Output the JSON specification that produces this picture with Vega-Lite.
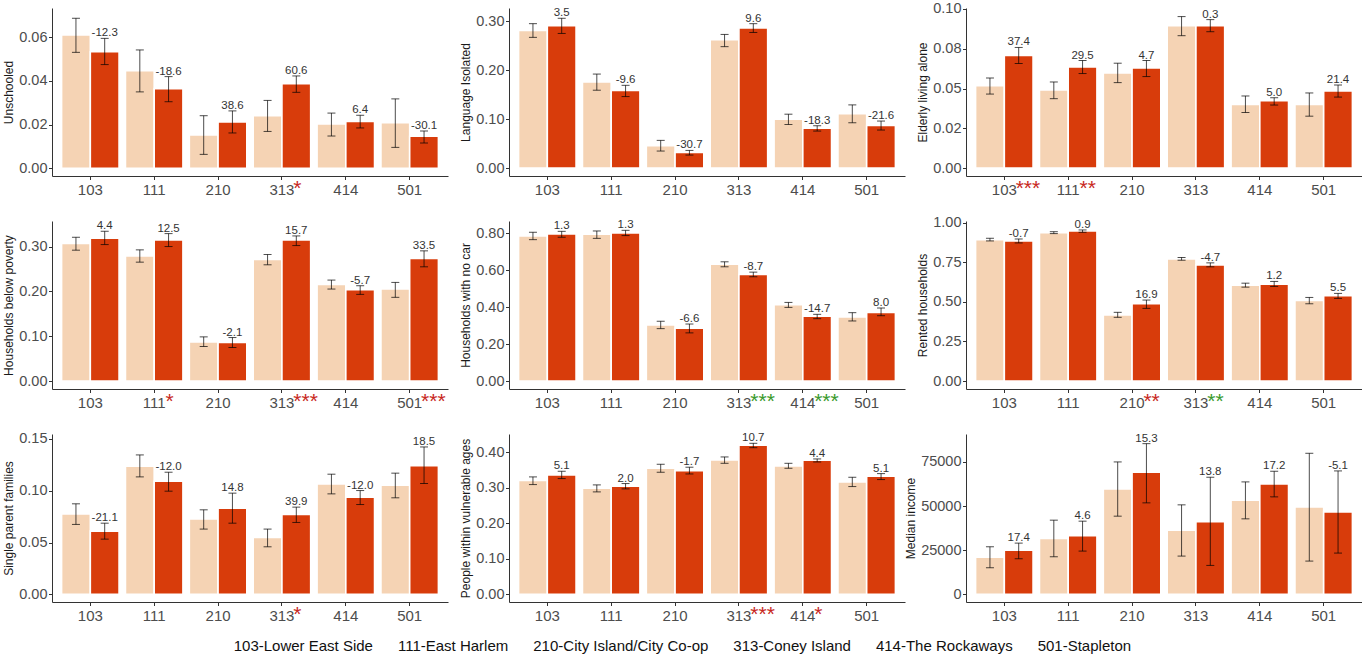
{
  "$schema": "https://vega.github.io/schema/vega-lite/v6.json",
  "padding": {"left": 2, "top": 0, "right": 0, "bottom": 0},
  "background": "white",
  "config": {
    "view": {"stroke": null},
    "font": "Liberation Sans",
    "axis": {"grid": false, "domainColor": "#333333", "tickColor": "#333333", "labelColor": "#4d4d4d", "labelFontSize": 15, "labelFont": "Liberation Sans", "titleFont": "Liberation Sans", "titleFontSize": 12, "titleFontWeight": "normal", "titleColor": "#1a1a1a", "tickSize": 3.5, "labelPadding": 1.5, "titlePadding": 3, "domainWidth": 1, "tickWidth": 1},
    "axisX": {"labelAngle": 0, "labelPadding": 3},
    "axisY": {"labelFontSize": 14.5},
    "text": {"font": "Liberation Sans"}
  },
  "datasets": {
    "bars": [
      {"v":"Unschooled","d":"103","p":"Period 1","val":0.0611,"lo":0.0531,"hi":0.0687},
      {"v":"Unschooled","d":"103","p":"Period 2","val":0.0534,"lo":0.0475,"hi":0.0595,"lab":"-12.3"},
      {"v":"Unschooled","d":"111","p":"Period 1","val":0.0447,"lo":0.0350,"hi":0.0542},
      {"v":"Unschooled","d":"111","p":"Period 2","val":0.0365,"lo":0.0305,"hi":0.0420,"lab":"-18.6"},
      {"v":"Unschooled","d":"210","p":"Period 1","val":0.0153,"lo":0.0064,"hi":0.0241},
      {"v":"Unschooled","d":"210","p":"Period 2","val":0.0212,"lo":0.0162,"hi":0.0263,"lab":"38.6"},
      {"v":"Unschooled","d":"313","p":"Period 1","val":0.0241,"lo":0.0169,"hi":0.0311},
      {"v":"Unschooled","d":"313","p":"Period 2","val":0.0388,"lo":0.0348,"hi":0.0423,"lab":"60.6"},
      {"v":"Unschooled","d":"414","p":"Period 1","val":0.0203,"lo":0.0148,"hi":0.0253},
      {"v":"Unschooled","d":"414","p":"Period 2","val":0.0215,"lo":0.0185,"hi":0.0243,"lab":"6.4"},
      {"v":"Unschooled","d":"501","p":"Period 1","val":0.0209,"lo":0.0096,"hi":0.0318},
      {"v":"Unschooled","d":"501","p":"Period 2","val":0.0147,"lo":0.0116,"hi":0.0171,"lab":"-30.1"},

      {"v":"Language Isolated","d":"103","p":"Period 1","val":0.281,"lo":0.267,"hi":0.295},
      {"v":"Language Isolated","d":"103","p":"Period 2","val":0.291,"lo":0.275,"hi":0.306,"lab":"3.5"},
      {"v":"Language Isolated","d":"111","p":"Period 1","val":0.176,"lo":0.159,"hi":0.192},
      {"v":"Language Isolated","d":"111","p":"Period 2","val":0.1585,"lo":0.146,"hi":0.169,"lab":"-9.6"},
      {"v":"Language Isolated","d":"210","p":"Period 1","val":0.0456,"lo":0.0347,"hi":0.0565},
      {"v":"Language Isolated","d":"210","p":"Period 2","val":0.032,"lo":0.0265,"hi":0.036,"lab":"-30.7"},
      {"v":"Language Isolated","d":"313","p":"Period 1","val":0.262,"lo":0.248,"hi":0.273},
      {"v":"Language Isolated","d":"313","p":"Period 2","val":0.286,"lo":0.277,"hi":0.295,"lab":"9.6"},
      {"v":"Language Isolated","d":"414","p":"Period 1","val":0.100,"lo":0.089,"hi":0.110},
      {"v":"Language Isolated","d":"414","p":"Period 2","val":0.0816,"lo":0.0755,"hi":0.0864,"lab":"-18.3"},
      {"v":"Language Isolated","d":"501","p":"Period 1","val":0.111,"lo":0.0925,"hi":0.129},
      {"v":"Language Isolated","d":"501","p":"Period 2","val":0.087,"lo":0.0776,"hi":0.096,"lab":"-21.6"},

      {"v":"Elderly living alone","d":"103","p":"Period 1","val":0.0518,"lo":0.0465,"hi":0.0566},
      {"v":"Elderly living alone","d":"103","p":"Period 2","val":0.0707,"lo":0.0657,"hi":0.0758,"lab":"37.4"},
      {"v":"Elderly living alone","d":"111","p":"Period 1","val":0.0491,"lo":0.0436,"hi":0.0541},
      {"v":"Elderly living alone","d":"111","p":"Period 2","val":0.0636,"lo":0.0594,"hi":0.0676,"lab":"29.5"},
      {"v":"Elderly living alone","d":"210","p":"Period 1","val":0.0598,"lo":0.0537,"hi":0.0659},
      {"v":"Elderly living alone","d":"210","p":"Period 2","val":0.0629,"lo":0.0575,"hi":0.0676,"lab":"4.7"},
      {"v":"Elderly living alone","d":"313","p":"Period 1","val":0.0895,"lo":0.0832,"hi":0.0952},
      {"v":"Elderly living alone","d":"313","p":"Period 2","val":0.0895,"lo":0.0857,"hi":0.0933,"lab":"0.3"},
      {"v":"Elderly living alone","d":"414","p":"Period 1","val":0.0400,"lo":0.0349,"hi":0.0453},
      {"v":"Elderly living alone","d":"414","p":"Period 2","val":0.0423,"lo":0.0396,"hi":0.0442,"lab":"5.0"},
      {"v":"Elderly living alone","d":"501","p":"Period 1","val":0.0400,"lo":0.0326,"hi":0.0472},
      {"v":"Elderly living alone","d":"501","p":"Period 2","val":0.0484,"lo":0.0446,"hi":0.0522,"lab":"21.4"},

      {"v":"Households below poverty","d":"103","p":"Period 1","val":0.3067,"lo":0.2919,"hi":0.3207},
      {"v":"Households below poverty","d":"103","p":"Period 2","val":0.3185,"lo":0.3044,"hi":0.3341,"lab":"4.4"},
      {"v":"Households below poverty","d":"111","p":"Period 1","val":0.2793,"lo":0.2652,"hi":0.2926},
      {"v":"Households below poverty","d":"111","p":"Period 2","val":0.3148,"lo":0.3000,"hi":0.3289,"lab":"12.5"},
      {"v":"Households below poverty","d":"210","p":"Period 1","val":0.0874,"lo":0.0770,"hi":0.0985},
      {"v":"Households below poverty","d":"210","p":"Period 2","val":0.0859,"lo":0.0748,"hi":0.0970,"lab":"-2.1"},
      {"v":"Households below poverty","d":"313","p":"Period 1","val":0.2711,"lo":0.2593,"hi":0.2822},
      {"v":"Households below poverty","d":"313","p":"Period 2","val":0.3148,"lo":0.3022,"hi":0.3237,"lab":"15.7"},
      {"v":"Households below poverty","d":"414","p":"Period 1","val":0.2156,"lo":0.2052,"hi":0.2252},
      {"v":"Households below poverty","d":"414","p":"Period 2","val":0.2037,"lo":0.1933,"hi":0.2126,"lab":"-5.7"},
      {"v":"Households below poverty","d":"501","p":"Period 1","val":0.2052,"lo":0.1867,"hi":0.2200},
      {"v":"Households below poverty","d":"501","p":"Period 2","val":0.2733,"lo":0.2548,"hi":0.2904,"lab":"33.5"},

      {"v":"Households with no car","d":"103","p":"Period 1","val":0.786,"lo":0.766,"hi":0.806},
      {"v":"Households with no car","d":"103","p":"Period 2","val":0.797,"lo":0.779,"hi":0.811,"lab":"1.3"},
      {"v":"Households with no car","d":"111","p":"Period 1","val":0.795,"lo":0.773,"hi":0.813},
      {"v":"Households with no car","d":"111","p":"Period 2","val":0.802,"lo":0.788,"hi":0.8165,"lab":"1.3"},
      {"v":"Households with no car","d":"210","p":"Period 1","val":0.304,"lo":0.284,"hi":0.324},
      {"v":"Households with no car","d":"210","p":"Period 2","val":0.286,"lo":0.261,"hi":0.309,"lab":"-6.6"},
      {"v":"Households with no car","d":"313","p":"Period 1","val":0.633,"lo":0.619,"hi":0.646},
      {"v":"Households with no car","d":"313","p":"Period 2","val":0.577,"lo":0.565,"hi":0.590,"lab":"-8.7"},
      {"v":"Households with no car","d":"414","p":"Period 1","val":0.4137,"lo":0.399,"hi":0.426},
      {"v":"Households with no car","d":"414","p":"Period 2","val":0.351,"lo":0.338,"hi":0.3615,"lab":"-14.7"},
      {"v":"Households with no car","d":"501","p":"Period 1","val":0.347,"lo":0.3255,"hi":0.3705},
      {"v":"Households with no car","d":"501","p":"Period 2","val":0.372,"lo":0.354,"hi":0.3957,"lab":"8.0"},

      {"v":"Rented households","d":"103","p":"Period 1","val":0.893,"lo":0.8847,"hi":0.9015},
      {"v":"Rented households","d":"103","p":"Period 2","val":0.8847,"lo":0.872,"hi":0.897,"lab":"-0.7"},
      {"v":"Rented households","d":"111","p":"Period 1","val":0.937,"lo":0.931,"hi":0.943},
      {"v":"Rented households","d":"111","p":"Period 2","val":0.9476,"lo":0.9392,"hi":0.954,"lab":"0.9"},
      {"v":"Rented households","d":"210","p":"Period 1","val":0.417,"lo":0.4025,"hi":0.434},
      {"v":"Rented households","d":"210","p":"Period 2","val":0.488,"lo":0.459,"hi":0.5115,"lab":"16.9"},
      {"v":"Rented households","d":"313","p":"Period 1","val":0.7715,"lo":0.763,"hi":0.780},
      {"v":"Rented households","d":"313","p":"Period 2","val":0.7338,"lo":0.7212,"hi":0.7463,"lab":"-4.7"},
      {"v":"Rented households","d":"414","p":"Period 1","val":0.606,"lo":0.593,"hi":0.618},
      {"v":"Rented households","d":"414","p":"Period 2","val":0.612,"lo":0.5975,"hi":0.629,"lab":"1.2"},
      {"v":"Rented households","d":"501","p":"Period 1","val":0.509,"lo":0.488,"hi":0.528},
      {"v":"Rented households","d":"501","p":"Period 2","val":0.539,"lo":0.522,"hi":0.5535,"lab":"5.5"},

      {"v":"Single parent families","d":"103","p":"Period 1","val":0.0777,"lo":0.0675,"hi":0.0874},
      {"v":"Single parent families","d":"103","p":"Period 2","val":0.0610,"lo":0.0533,"hi":0.0687,"lab":"-21.1"},
      {"v":"Single parent families","d":"111","p":"Period 1","val":0.1237,"lo":0.1134,"hi":0.1346},
      {"v":"Single parent families","d":"111","p":"Period 2","val":0.1092,"lo":0.0996,"hi":0.1179,"lab":"-12.0"},
      {"v":"Single parent families","d":"210","p":"Period 1","val":0.0729,"lo":0.0630,"hi":0.0816},
      {"v":"Single parent families","d":"210","p":"Period 2","val":0.0832,"lo":0.0687,"hi":0.0977,"lab":"14.8"},
      {"v":"Single parent families","d":"313","p":"Period 1","val":0.0549,"lo":0.0459,"hi":0.0630},
      {"v":"Single parent families","d":"313","p":"Period 2","val":0.0771,"lo":0.0694,"hi":0.0842,"lab":"39.9"},
      {"v":"Single parent families","d":"414","p":"Period 1","val":0.1066,"lo":0.0970,"hi":0.1160},
      {"v":"Single parent families","d":"414","p":"Period 2","val":0.0938,"lo":0.0867,"hi":0.1002,"lab":"-12.0"},
      {"v":"Single parent families","d":"501","p":"Period 1","val":0.1054,"lo":0.0932,"hi":0.1170},
      {"v":"Single parent families","d":"501","p":"Period 2","val":0.1243,"lo":0.1070,"hi":0.1423,"lab":"18.5"},

      {"v":"People within vulnerable ages","d":"103","p":"Period 1","val":0.3204,"lo":0.3091,"hi":0.3307},
      {"v":"People within vulnerable ages","d":"103","p":"Period 2","val":0.3363,"lo":0.3260,"hi":0.3466,"lab":"5.1"},
      {"v":"People within vulnerable ages","d":"111","p":"Period 1","val":0.2988,"lo":0.2885,"hi":0.3082},
      {"v":"People within vulnerable ages","d":"111","p":"Period 2","val":0.3044,"lo":0.2970,"hi":0.3120,"lab":"2.0"},
      {"v":"People within vulnerable ages","d":"210","p":"Period 1","val":0.3550,"lo":0.3438,"hi":0.3663},
      {"v":"People within vulnerable ages","d":"210","p":"Period 2","val":0.3485,"lo":0.3390,"hi":0.3580,"lab":"-1.7"},
      {"v":"People within vulnerable ages","d":"313","p":"Period 1","val":0.3785,"lo":0.3690,"hi":0.3869},
      {"v":"People within vulnerable ages","d":"313","p":"Period 2","val":0.4197,"lo":0.4130,"hi":0.4253,"lab":"10.7"},
      {"v":"People within vulnerable ages","d":"414","p":"Period 1","val":0.3616,"lo":0.3550,"hi":0.3690},
      {"v":"People within vulnerable ages","d":"414","p":"Period 2","val":0.3775,"lo":0.3728,"hi":0.3813,"lab":"4.4"},
      {"v":"People within vulnerable ages","d":"501","p":"Period 1","val":0.3166,"lo":0.3035,"hi":0.3297},
      {"v":"People within vulnerable ages","d":"501","p":"Period 2","val":0.3326,"lo":0.3232,"hi":0.3400,"lab":"5.1"},

      {"v":"Median income","d":"103","p":"Period 1","val":21100,"lo":15070,"hi":26950},
      {"v":"Median income","d":"103","p":"Period 2","val":25060,"lo":20160,"hi":29020,"lab":"17.4"},
      {"v":"Median income","d":"111","p":"Period 1","val":31660,"lo":21290,"hi":42020},
      {"v":"Median income","d":"111","p":"Period 2","val":33160,"lo":24500,"hi":41450,"lab":"4.6"},
      {"v":"Median income","d":"210","p":"Period 1","val":59730,"lo":44280,"hi":75000},
      {"v":"Median income","d":"210","p":"Period 2","val":69150,"lo":51820,"hi":85360,"lab":"15.3"},
      {"v":"Median income","d":"313","p":"Period 1","val":36370,"lo":21670,"hi":50690},
      {"v":"Median income","d":"313","p":"Period 2","val":41080,"lo":16390,"hi":66330,"lab":"13.8"},
      {"v":"Median income","d":"414","p":"Period 1","val":53330,"lo":42770,"hi":63690},
      {"v":"Median income","d":"414","p":"Period 2","val":62560,"lo":55210,"hi":69720,"lab":"17.2"},
      {"v":"Median income","d":"501","p":"Period 1","val":49560,"lo":18840,"hi":79900},
      {"v":"Median income","d":"501","p":"Period 2","val":46730,"lo":23370,"hi":69910,"lab":"-5.1"}
    ],
    "stars": [
      {"v":"Unschooled","d":"313","p":"Period 2","s":"*","dir":"up"},
      {"v":"Elderly living alone","d":"103","p":"Period 2","s":"***","dir":"up"},
      {"v":"Elderly living alone","d":"111","p":"Period 2","s":"**","dir":"up"},
      {"v":"Households below poverty","d":"111","p":"Period 2","s":"*","dir":"up"},
      {"v":"Households below poverty","d":"313","p":"Period 2","s":"***","dir":"up"},
      {"v":"Households below poverty","d":"501","p":"Period 2","s":"***","dir":"up"},
      {"v":"Households with no car","d":"313","p":"Period 2","s":"***","dir":"down"},
      {"v":"Households with no car","d":"414","p":"Period 2","s":"***","dir":"down"},
      {"v":"Rented households","d":"210","p":"Period 2","s":"**","dir":"up"},
      {"v":"Rented households","d":"313","p":"Period 2","s":"**","dir":"down"},
      {"v":"Single parent families","d":"313","p":"Period 2","s":"*","dir":"up"},
      {"v":"People within vulnerable ages","d":"313","p":"Period 2","s":"***","dir":"up"},
      {"v":"People within vulnerable ages","d":"414","p":"Period 2","s":"*","dir":"up"}
    ]
  },
  "title": {"text": "103-Lower East Side\u00a0\u00a0\u00a0\u00a0\u00a0\u00a0111-East Harlem\u00a0\u00a0\u00a0\u00a0\u00a0\u00a0210-City Island/City Co-op\u00a0\u00a0\u00a0\u00a0\u00a0\u00a0313-Coney Island\u00a0\u00a0\u00a0\u00a0\u00a0\u00a0414-The Rockaways\u00a0\u00a0\u00a0\u00a0\u00a0\u00a0501-Stapleton", "orient": "bottom", "anchor": "middle", "fontSize": 15, "font": "Liberation Sans", "fontWeight": "normal", "color": "#111111", "offset": 14},
  "columns": 3,
  "bounds": "flush",
  "spacing": {"row": 45, "column": 61},
  "concat": [
    {
      "width": 396, "height": 168,
      "encoding": {"x": {"field": "d", "type": "nominal", "scale": {"paddingInner": 0.1, "paddingOuter": 0.15}, "axis": {"title": null}}, "xOffset": {"field": "p", "type": "nominal"}},
      "layer": [
        {"data": {"name": "bars"}, "transform": [{"filter": "datum.v === 'Unschooled'"}],
         "layer": [
          {"mark": {"type": "bar", "stroke": "white", "strokeWidth": 1.6},
           "encoding": {"y": {"field": "val", "type": "quantitative", "scale": {"domain": [-0.0035, 0.0734], "nice": false, "zero": false}, "axis": {"title": "Unschooled", "values": [0, 0.02, 0.04, 0.06], "format": ".2f"}}, "y2": {"datum": 0}, "color": {"field": "p", "type": "nominal", "scale": {"range": ["#F5D3B4", "#D83C0B"]}, "legend": null}}},
          {"mark": {"type": "rule", "color": "black", "opacity": 0.7}, "encoding": {"y": {"field": "lo", "type": "quantitative"}, "y2": {"field": "hi"}}},
          {"mark": {"type": "tick", "color": "black", "opacity": 0.7, "size": 8, "thickness": 1}, "encoding": {"y": {"field": "lo", "type": "quantitative"}}},
          {"mark": {"type": "tick", "color": "black", "opacity": 0.7, "size": 8, "thickness": 1}, "encoding": {"y": {"field": "hi", "type": "quantitative"}}},
          {"transform": [{"filter": "datum.lab != null"}], "mark": {"type": "text", "fontSize": 11.5, "color": "#333333", "dy": -2, "baseline": "alphabetic"}, "encoding": {"y": {"field": "hi", "type": "quantitative"}, "text": {"field": "lab"}}}
         ]},
        {"data": {"name": "stars"}, "transform": [{"filter": "datum.v === 'Unschooled'"}],
         "mark": {"type": "text", "fontSize": 21, "align": "left", "dx": -3, "dy": 19, "baseline": "alphabetic"},
         "encoding": {"y": {"datum": -0.0035}, "text": {"field": "s"}, "color": {"condition": {"test": "datum.dir === 'down'", "value": "#3A9A2C"}, "value": "#C8281E"}}}
      ]
    },
    {
      "width": 396, "height": 168,
      "encoding": {"x": {"field": "d", "type": "nominal", "scale": {"paddingInner": 0.1, "paddingOuter": 0.15}, "axis": {"title": null}}, "xOffset": {"field": "p", "type": "nominal"}},
      "layer": [
        {"data": {"name": "bars"}, "transform": [{"filter": "datum.v === 'Language Isolated'"}],
         "layer": [
          {"mark": {"type": "bar", "stroke": "white", "strokeWidth": 1.6},
           "encoding": {"y": {"field": "val", "type": "quantitative", "scale": {"domain": [-0.0163, 0.327], "nice": false, "zero": false}, "axis": {"title": "Language Isolated", "values": [0, 0.1, 0.2, 0.3], "format": ".2f"}}, "y2": {"datum": 0}, "color": {"field": "p", "type": "nominal", "scale": {"range": ["#F5D3B4", "#D83C0B"]}, "legend": null}}},
          {"mark": {"type": "rule", "color": "black", "opacity": 0.7}, "encoding": {"y": {"field": "lo", "type": "quantitative"}, "y2": {"field": "hi"}}},
          {"mark": {"type": "tick", "color": "black", "opacity": 0.7, "size": 8, "thickness": 1}, "encoding": {"y": {"field": "lo", "type": "quantitative"}}},
          {"mark": {"type": "tick", "color": "black", "opacity": 0.7, "size": 8, "thickness": 1}, "encoding": {"y": {"field": "hi", "type": "quantitative"}}},
          {"transform": [{"filter": "datum.lab != null"}], "mark": {"type": "text", "fontSize": 11.5, "color": "#333333", "dy": -2, "baseline": "alphabetic"}, "encoding": {"y": {"field": "hi", "type": "quantitative"}, "text": {"field": "lab"}}}
         ]}
      ]
    },
    {
      "width": 396, "height": 168,
      "encoding": {"x": {"field": "d", "type": "nominal", "scale": {"paddingInner": 0.1, "paddingOuter": 0.15}, "axis": {"title": null}}, "xOffset": {"field": "p", "type": "nominal"}},
      "layer": [
        {"data": {"name": "bars"}, "transform": [{"filter": "datum.v === 'Elderly living alone'"}],
         "layer": [
          {"mark": {"type": "bar", "stroke": "white", "strokeWidth": 1.6},
           "encoding": {"y": {"field": "val", "type": "quantitative", "scale": {"domain": [-0.005, 0.1006], "nice": false, "zero": false}, "axis": {"title": "Elderly living alone", "values": [0, 0.025, 0.05, 0.075, 0.1], "labelExpr": "datum.value == 0.025 ? '0.02' : datum.value == 0.075 ? '0.08' : format(datum.value, '.2f')"}}, "y2": {"datum": 0}, "color": {"field": "p", "type": "nominal", "scale": {"range": ["#F5D3B4", "#D83C0B"]}, "legend": null}}},
          {"mark": {"type": "rule", "color": "black", "opacity": 0.7}, "encoding": {"y": {"field": "lo", "type": "quantitative"}, "y2": {"field": "hi"}}},
          {"mark": {"type": "tick", "color": "black", "opacity": 0.7, "size": 8, "thickness": 1}, "encoding": {"y": {"field": "lo", "type": "quantitative"}}},
          {"mark": {"type": "tick", "color": "black", "opacity": 0.7, "size": 8, "thickness": 1}, "encoding": {"y": {"field": "hi", "type": "quantitative"}}},
          {"transform": [{"filter": "datum.lab != null"}], "mark": {"type": "text", "fontSize": 11.5, "color": "#333333", "dy": -2, "baseline": "alphabetic"}, "encoding": {"y": {"field": "hi", "type": "quantitative"}, "text": {"field": "lab"}}}
         ]},
        {"data": {"name": "stars"}, "transform": [{"filter": "datum.v === 'Elderly living alone'"}],
         "mark": {"type": "text", "fontSize": 21, "align": "left", "dx": -3, "dy": 19, "baseline": "alphabetic"},
         "encoding": {"y": {"datum": -0.005}, "text": {"field": "s"}, "color": {"condition": {"test": "datum.dir === 'down'", "value": "#3A9A2C"}, "value": "#C8281E"}}}
      ]
    },
    {
      "width": 396, "height": 168,
      "encoding": {"x": {"field": "d", "type": "nominal", "scale": {"paddingInner": 0.1, "paddingOuter": 0.15}, "axis": {"title": null}}, "xOffset": {"field": "p", "type": "nominal"}},
      "layer": [
        {"data": {"name": "bars"}, "transform": [{"filter": "datum.v === 'Households below poverty'"}],
         "layer": [
          {"mark": {"type": "bar", "stroke": "white", "strokeWidth": 1.6},
           "encoding": {"y": {"field": "val", "type": "quantitative", "scale": {"domain": [-0.0178, 0.357], "nice": false, "zero": false}, "axis": {"title": "Households below poverty", "values": [0, 0.1, 0.2, 0.3], "format": ".2f"}}, "y2": {"datum": 0}, "color": {"field": "p", "type": "nominal", "scale": {"range": ["#F5D3B4", "#D83C0B"]}, "legend": null}}},
          {"mark": {"type": "rule", "color": "black", "opacity": 0.7}, "encoding": {"y": {"field": "lo", "type": "quantitative"}, "y2": {"field": "hi"}}},
          {"mark": {"type": "tick", "color": "black", "opacity": 0.7, "size": 8, "thickness": 1}, "encoding": {"y": {"field": "lo", "type": "quantitative"}}},
          {"mark": {"type": "tick", "color": "black", "opacity": 0.7, "size": 8, "thickness": 1}, "encoding": {"y": {"field": "hi", "type": "quantitative"}}},
          {"transform": [{"filter": "datum.lab != null"}], "mark": {"type": "text", "fontSize": 11.5, "color": "#333333", "dy": -2, "baseline": "alphabetic"}, "encoding": {"y": {"field": "hi", "type": "quantitative"}, "text": {"field": "lab"}}}
         ]},
        {"data": {"name": "stars"}, "transform": [{"filter": "datum.v === 'Households below poverty'"}],
         "mark": {"type": "text", "fontSize": 21, "align": "left", "dx": -3, "dy": 19, "baseline": "alphabetic"},
         "encoding": {"y": {"datum": -0.0178}, "text": {"field": "s"}, "color": {"condition": {"test": "datum.dir === 'down'", "value": "#3A9A2C"}, "value": "#C8281E"}}}
      ]
    },
    {
      "width": 396, "height": 168,
      "encoding": {"x": {"field": "d", "type": "nominal", "scale": {"paddingInner": 0.1, "paddingOuter": 0.15}, "axis": {"title": null}}, "xOffset": {"field": "p", "type": "nominal"}},
      "layer": [
        {"data": {"name": "bars"}, "transform": [{"filter": "datum.v === 'Households with no car'"}],
         "layer": [
          {"mark": {"type": "bar", "stroke": "white", "strokeWidth": 1.6},
           "encoding": {"y": {"field": "val", "type": "quantitative", "scale": {"domain": [-0.043, 0.867], "nice": false, "zero": false}, "axis": {"title": "Households with no car", "values": [0, 0.2, 0.4, 0.6, 0.8], "format": ".2f"}}, "y2": {"datum": 0}, "color": {"field": "p", "type": "nominal", "scale": {"range": ["#F5D3B4", "#D83C0B"]}, "legend": null}}},
          {"mark": {"type": "rule", "color": "black", "opacity": 0.7}, "encoding": {"y": {"field": "lo", "type": "quantitative"}, "y2": {"field": "hi"}}},
          {"mark": {"type": "tick", "color": "black", "opacity": 0.7, "size": 8, "thickness": 1}, "encoding": {"y": {"field": "lo", "type": "quantitative"}}},
          {"mark": {"type": "tick", "color": "black", "opacity": 0.7, "size": 8, "thickness": 1}, "encoding": {"y": {"field": "hi", "type": "quantitative"}}},
          {"transform": [{"filter": "datum.lab != null"}], "mark": {"type": "text", "fontSize": 11.5, "color": "#333333", "dy": -2, "baseline": "alphabetic"}, "encoding": {"y": {"field": "hi", "type": "quantitative"}, "text": {"field": "lab"}}}
         ]},
        {"data": {"name": "stars"}, "transform": [{"filter": "datum.v === 'Households with no car'"}],
         "mark": {"type": "text", "fontSize": 21, "align": "left", "dx": -3, "dy": 19, "baseline": "alphabetic"},
         "encoding": {"y": {"datum": -0.043}, "text": {"field": "s"}, "color": {"condition": {"test": "datum.dir === 'down'", "value": "#3A9A2C"}, "value": "#C8281E"}}}
      ]
    },
    {
      "width": 396, "height": 168,
      "encoding": {"x": {"field": "d", "type": "nominal", "scale": {"paddingInner": 0.1, "paddingOuter": 0.15}, "axis": {"title": null}}, "xOffset": {"field": "p", "type": "nominal"}},
      "layer": [
        {"data": {"name": "bars"}, "transform": [{"filter": "datum.v === 'Rented households'"}],
         "layer": [
          {"mark": {"type": "bar", "stroke": "white", "strokeWidth": 1.6},
           "encoding": {"y": {"field": "val", "type": "quantitative", "scale": {"domain": [-0.05, 1.0105], "nice": false, "zero": false}, "axis": {"title": "Rented households", "values": [0, 0.25, 0.5, 0.75, 1], "format": ".2f"}}, "y2": {"datum": 0}, "color": {"field": "p", "type": "nominal", "scale": {"range": ["#F5D3B4", "#D83C0B"]}, "legend": null}}},
          {"mark": {"type": "rule", "color": "black", "opacity": 0.7}, "encoding": {"y": {"field": "lo", "type": "quantitative"}, "y2": {"field": "hi"}}},
          {"mark": {"type": "tick", "color": "black", "opacity": 0.7, "size": 8, "thickness": 1}, "encoding": {"y": {"field": "lo", "type": "quantitative"}}},
          {"mark": {"type": "tick", "color": "black", "opacity": 0.7, "size": 8, "thickness": 1}, "encoding": {"y": {"field": "hi", "type": "quantitative"}}},
          {"transform": [{"filter": "datum.lab != null"}], "mark": {"type": "text", "fontSize": 11.5, "color": "#333333", "dy": -2, "baseline": "alphabetic"}, "encoding": {"y": {"field": "hi", "type": "quantitative"}, "text": {"field": "lab"}}}
         ]},
        {"data": {"name": "stars"}, "transform": [{"filter": "datum.v === 'Rented households'"}],
         "mark": {"type": "text", "fontSize": 21, "align": "left", "dx": -3, "dy": 19, "baseline": "alphabetic"},
         "encoding": {"y": {"datum": -0.05}, "text": {"field": "s"}, "color": {"condition": {"test": "datum.dir === 'down'", "value": "#3A9A2C"}, "value": "#C8281E"}}}
      ]
    },
    {
      "width": 396, "height": 168,
      "encoding": {"x": {"field": "d", "type": "nominal", "scale": {"paddingInner": 0.1, "paddingOuter": 0.15}, "axis": {"title": null}}, "xOffset": {"field": "p", "type": "nominal"}},
      "layer": [
        {"data": {"name": "bars"}, "transform": [{"filter": "datum.v === 'Single parent families'"}],
         "layer": [
          {"mark": {"type": "bar", "stroke": "white", "strokeWidth": 1.6},
           "encoding": {"y": {"field": "val", "type": "quantitative", "scale": {"domain": [-0.0074, 0.1548], "nice": false, "zero": false}, "axis": {"title": "Single parent families", "values": [0, 0.05, 0.1, 0.15], "format": ".2f"}}, "y2": {"datum": 0}, "color": {"field": "p", "type": "nominal", "scale": {"range": ["#F5D3B4", "#D83C0B"]}, "legend": null}}},
          {"mark": {"type": "rule", "color": "black", "opacity": 0.7}, "encoding": {"y": {"field": "lo", "type": "quantitative"}, "y2": {"field": "hi"}}},
          {"mark": {"type": "tick", "color": "black", "opacity": 0.7, "size": 8, "thickness": 1}, "encoding": {"y": {"field": "lo", "type": "quantitative"}}},
          {"mark": {"type": "tick", "color": "black", "opacity": 0.7, "size": 8, "thickness": 1}, "encoding": {"y": {"field": "hi", "type": "quantitative"}}},
          {"transform": [{"filter": "datum.lab != null"}], "mark": {"type": "text", "fontSize": 11.5, "color": "#333333", "dy": -2, "baseline": "alphabetic"}, "encoding": {"y": {"field": "hi", "type": "quantitative"}, "text": {"field": "lab"}}}
         ]},
        {"data": {"name": "stars"}, "transform": [{"filter": "datum.v === 'Single parent families'"}],
         "mark": {"type": "text", "fontSize": 21, "align": "left", "dx": -3, "dy": 19, "baseline": "alphabetic"},
         "encoding": {"y": {"datum": -0.0074}, "text": {"field": "s"}, "color": {"condition": {"test": "datum.dir === 'down'", "value": "#3A9A2C"}, "value": "#C8281E"}}}
      ]
    },
    {
      "width": 396, "height": 168,
      "encoding": {"x": {"field": "d", "type": "nominal", "scale": {"paddingInner": 0.1, "paddingOuter": 0.15}, "axis": {"title": null}}, "xOffset": {"field": "p", "type": "nominal"}},
      "layer": [
        {"data": {"name": "bars"}, "transform": [{"filter": "datum.v === 'People within vulnerable ages'"}],
         "layer": [
          {"mark": {"type": "bar", "stroke": "white", "strokeWidth": 1.6},
           "encoding": {"y": {"field": "val", "type": "quantitative", "scale": {"domain": [-0.0215, 0.4515], "nice": false, "zero": false}, "axis": {"title": "People within vulnerable ages", "values": [0, 0.1, 0.2, 0.3, 0.4], "format": ".2f"}}, "y2": {"datum": 0}, "color": {"field": "p", "type": "nominal", "scale": {"range": ["#F5D3B4", "#D83C0B"]}, "legend": null}}},
          {"mark": {"type": "rule", "color": "black", "opacity": 0.7}, "encoding": {"y": {"field": "lo", "type": "quantitative"}, "y2": {"field": "hi"}}},
          {"mark": {"type": "tick", "color": "black", "opacity": 0.7, "size": 8, "thickness": 1}, "encoding": {"y": {"field": "lo", "type": "quantitative"}}},
          {"mark": {"type": "tick", "color": "black", "opacity": 0.7, "size": 8, "thickness": 1}, "encoding": {"y": {"field": "hi", "type": "quantitative"}}},
          {"transform": [{"filter": "datum.lab != null"}], "mark": {"type": "text", "fontSize": 11.5, "color": "#333333", "dy": -2, "baseline": "alphabetic"}, "encoding": {"y": {"field": "hi", "type": "quantitative"}, "text": {"field": "lab"}}}
         ]},
        {"data": {"name": "stars"}, "transform": [{"filter": "datum.v === 'People within vulnerable ages'"}],
         "mark": {"type": "text", "fontSize": 21, "align": "left", "dx": -3, "dy": 19, "baseline": "alphabetic"},
         "encoding": {"y": {"datum": -0.0215}, "text": {"field": "s"}, "color": {"condition": {"test": "datum.dir === 'down'", "value": "#3A9A2C"}, "value": "#C8281E"}}}
      ]
    },
    {
      "width": 396, "height": 168,
      "encoding": {"x": {"field": "d", "type": "nominal", "scale": {"paddingInner": 0.1, "paddingOuter": 0.15}, "axis": {"title": null}}, "xOffset": {"field": "p", "type": "nominal"}},
      "layer": [
        {"data": {"name": "bars"}, "transform": [{"filter": "datum.v === 'Median income'"}],
         "layer": [
          {"mark": {"type": "bar", "stroke": "white", "strokeWidth": 1.6},
           "encoding": {"y": {"field": "val", "type": "quantitative", "scale": {"domain": [-4334, 90820], "nice": false, "zero": false}, "axis": {"title": "Median income", "values": [0, 25000, 50000, 75000], "format": "d"}}, "y2": {"datum": 0}, "color": {"field": "p", "type": "nominal", "scale": {"range": ["#F5D3B4", "#D83C0B"]}, "legend": null}}},
          {"mark": {"type": "rule", "color": "black", "opacity": 0.7}, "encoding": {"y": {"field": "lo", "type": "quantitative"}, "y2": {"field": "hi"}}},
          {"mark": {"type": "tick", "color": "black", "opacity": 0.7, "size": 8, "thickness": 1}, "encoding": {"y": {"field": "lo", "type": "quantitative"}}},
          {"mark": {"type": "tick", "color": "black", "opacity": 0.7, "size": 8, "thickness": 1}, "encoding": {"y": {"field": "hi", "type": "quantitative"}}},
          {"transform": [{"filter": "datum.lab != null"}], "mark": {"type": "text", "fontSize": 11.5, "color": "#333333", "dy": -2, "baseline": "alphabetic"}, "encoding": {"y": {"field": "hi", "type": "quantitative"}, "text": {"field": "lab"}}}
         ]}
      ]
    }
  ]
}
